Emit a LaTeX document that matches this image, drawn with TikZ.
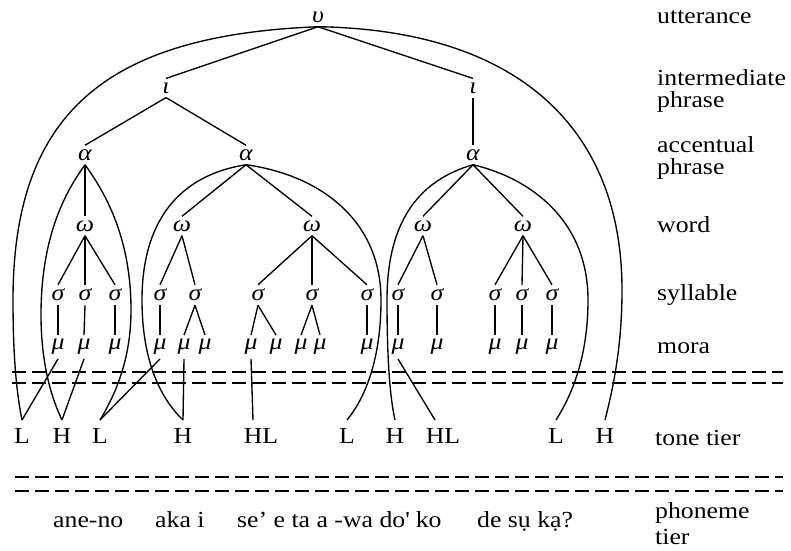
\documentclass[tikz,border=0pt]{standalone}
\usepackage{fontspec}
\setmainfont{Liberation Serif}[FakeStretch=1.12]
\begin{document}
\begin{tikzpicture}[x=1pt,y=-1pt,
  font=\fontsize{23}{22}\selectfont,
  ln/.style={line width=1.35pt},
  dsh/.style={line width=1.6pt, dash pattern=on 14pt off 6pt},
  gk/.style={inner sep=4pt, font=\fontsize{23}{22}\selectfont\itshape},
  tone/.style={inner sep=0pt, outer ysep=8pt, text height=15pt, text depth=0pt, anchor=base},
  lab/.style={inner sep=0pt, anchor=base west},
  lab2/.style={inner sep=0pt, anchor=north west, align=left},
  pho/.style={inner sep=0pt, anchor=base west}]
\useasboundingbox (0,0) rectangle (791,550);

% prosodic nodes
\node[gk] (u) at (318,17) {υ};
\node[gk] (i1) at (166,88) {ι};
\node[gk] (i2) at (473,88) {ι};
\node[gk] (a1) at (85,155) {α};
\node[gk] (a2) at (246,155) {α};
\node[gk] (a3) at (473,155) {α};
\node[gk] (w1) at (85,226) {ω};
\node[gk] (w2) at (182,226) {ω};
\node[gk] (w3) at (312,226) {ω};
\node[gk] (w4) at (423,226) {ω};
\node[gk] (w5) at (523,226) {ω};
\foreach \n/\x in {1/58,2/85,3/115,4/160,5/195,6/258,7/312,8/367,9/398,10/437,11/495,12/522,13/552}
  \node[gk] (s\n) at (\x,295) {σ};
\foreach \n/\x in {1/58,2/84,3/115,4/160,5/184,6/205,7/251,8/276,9/301,10/320,11/367,12/398,13/437,14/495,15/522,16/552}
  \node[gk] (m\n) at (\x,347) {μ};

% tones
\node[tone] (L1) at (22,443) {L};
\node[tone] (H1) at (62,443) {H};
\node[tone] (L2) at (100,443) {L};
\node[tone] (H2) at (183,443) {H};
\node[tone] (HL1) at (261,443) {HL};
\node[tone] (L3) at (347,443) {L};
\node[tone] (H3) at (395,443) {H};
\node[tone] (HL2) at (443,443) {HL};
\node[tone] (L4) at (556,443) {L};
\node[tone] (H4) at (605,443) {H};

% tier labels
\node[lab] (lu) at (657,23) {utterance};
\node[lab2] (li) at (657,69) {intermediate\\phrase};
\node[lab2] (la) at (657,136) {accentual\\phrase};
\node[lab] (lw) at (657,232) {word};
\node[lab] (ls) at (657,300) {syllable};
\node[lab] (lm) at (657,353) {mora};
\node[lab] (lt) at (655,445) {tone tier};
\node[lab2, font=\fontsize{23}{26}\selectfont] (lp) at (655,502) {phoneme\\tier};

% phoneme text
\node[pho] (p1) at (53,527) {ane-no};
\node[pho] (p2) at (155,527) {aka i};
\node[pho] (p3) at (237,527) {se’ e ta a -wa do\textquotesingle{} ko};
\node[pho] (p4) at (477,527) {de sụ kạ?};

% dashed tiers
\draw[dsh] (12,372) -- (783,372);
\draw[dsh] (12,383) -- (783,383);
\draw[dsh] (15,477) -- (783,477);
\draw[dsh] (15,491) -- (783,491);

% tree
\draw[ln] (u.south) -- (i1.north);
\draw[ln] (u.south) -- (i2.north);
\draw[ln] (i1.south) -- (a1.north);
\draw[ln] (i1.south) -- (a2.north);
\draw[ln] (i2.south) -- (a3.north);
\draw[ln] (a1.south) -- (w1.north);
\draw[ln] (a2.south) -- (w2.north);
\draw[ln] (a2.south) -- (w3.north);
\draw[ln] (a3.south) -- (w4.north);
\draw[ln] (a3.south) -- (w5.north);
\foreach \w/\s in {w1/s1,w1/s2,w1/s3,w2/s4,w2/s5,w3/s6,w3/s7,w3/s8,w4/s9,w4/s10,w5/s11,w5/s12,w5/s13}
  \draw[ln] (\w.south) -- (\s.north);
\foreach \s/\m in {s1/m1,s2/m2,s3/m3,s4/m4,s5/m5,s5/m6,s6/m7,s6/m8,s7/m9,s7/m10,s8/m11,s9/m12,s10/m13,s11/m14,s12/m15,s13/m16}
  \draw[ln] (\s.south) -- (\m.north);

% mora to tone
\draw[ln] (m1.south) -- (L1.north);
\draw[ln] (m2.south) -- (H1.north);
\draw[ln] (m4.south) -- (L2.north);
\draw[ln] (m5.south) -- (H2.north);
\draw[ln] (m7.south) -- ([xshift=-8pt]HL1.north);
\draw[ln] (m12.south) -- ([xshift=-8pt]HL2.north);

% arcs to tones
\draw[ln] (u.south) .. controls (110,35) and (13,110) .. (13,300) .. controls (13,360) and (17,395) .. (L1.north);
\draw[ln] (u.south) .. controls (520,30) and (622,130) .. (622,290) .. controls (622,350) and (612,392) .. (H4.north);
\draw[ln] (a1.south) .. controls (63,195) and (41,240) .. (41,315) .. controls (41,360) and (50,395) .. (H1.north);
\draw[ln] (a1.south) .. controls (107,195) and (131,240) .. (131,310) .. controls (131,360) and (115,395) .. (L2.north);
\draw[ln] (a2.south) .. controls (180,175) and (142,220) .. (142,300) .. controls (142,360) and (160,398) .. (H2.north);
\draw[ln] (a2.south) .. controls (320,175) and (381,220) .. (381,300) .. controls (381,360) and (365,398) .. (L3.north);
\draw[ln] (a3.south) .. controls (420,180) and (387,220) .. (387,300) .. controls (387,360) and (390,398) .. (H3.north);
\draw[ln] (a3.south) .. controls (530,178) and (588,220) .. (588,300) .. controls (588,360) and (570,398) .. (L4.north);
\end{tikzpicture}
\end{document}
